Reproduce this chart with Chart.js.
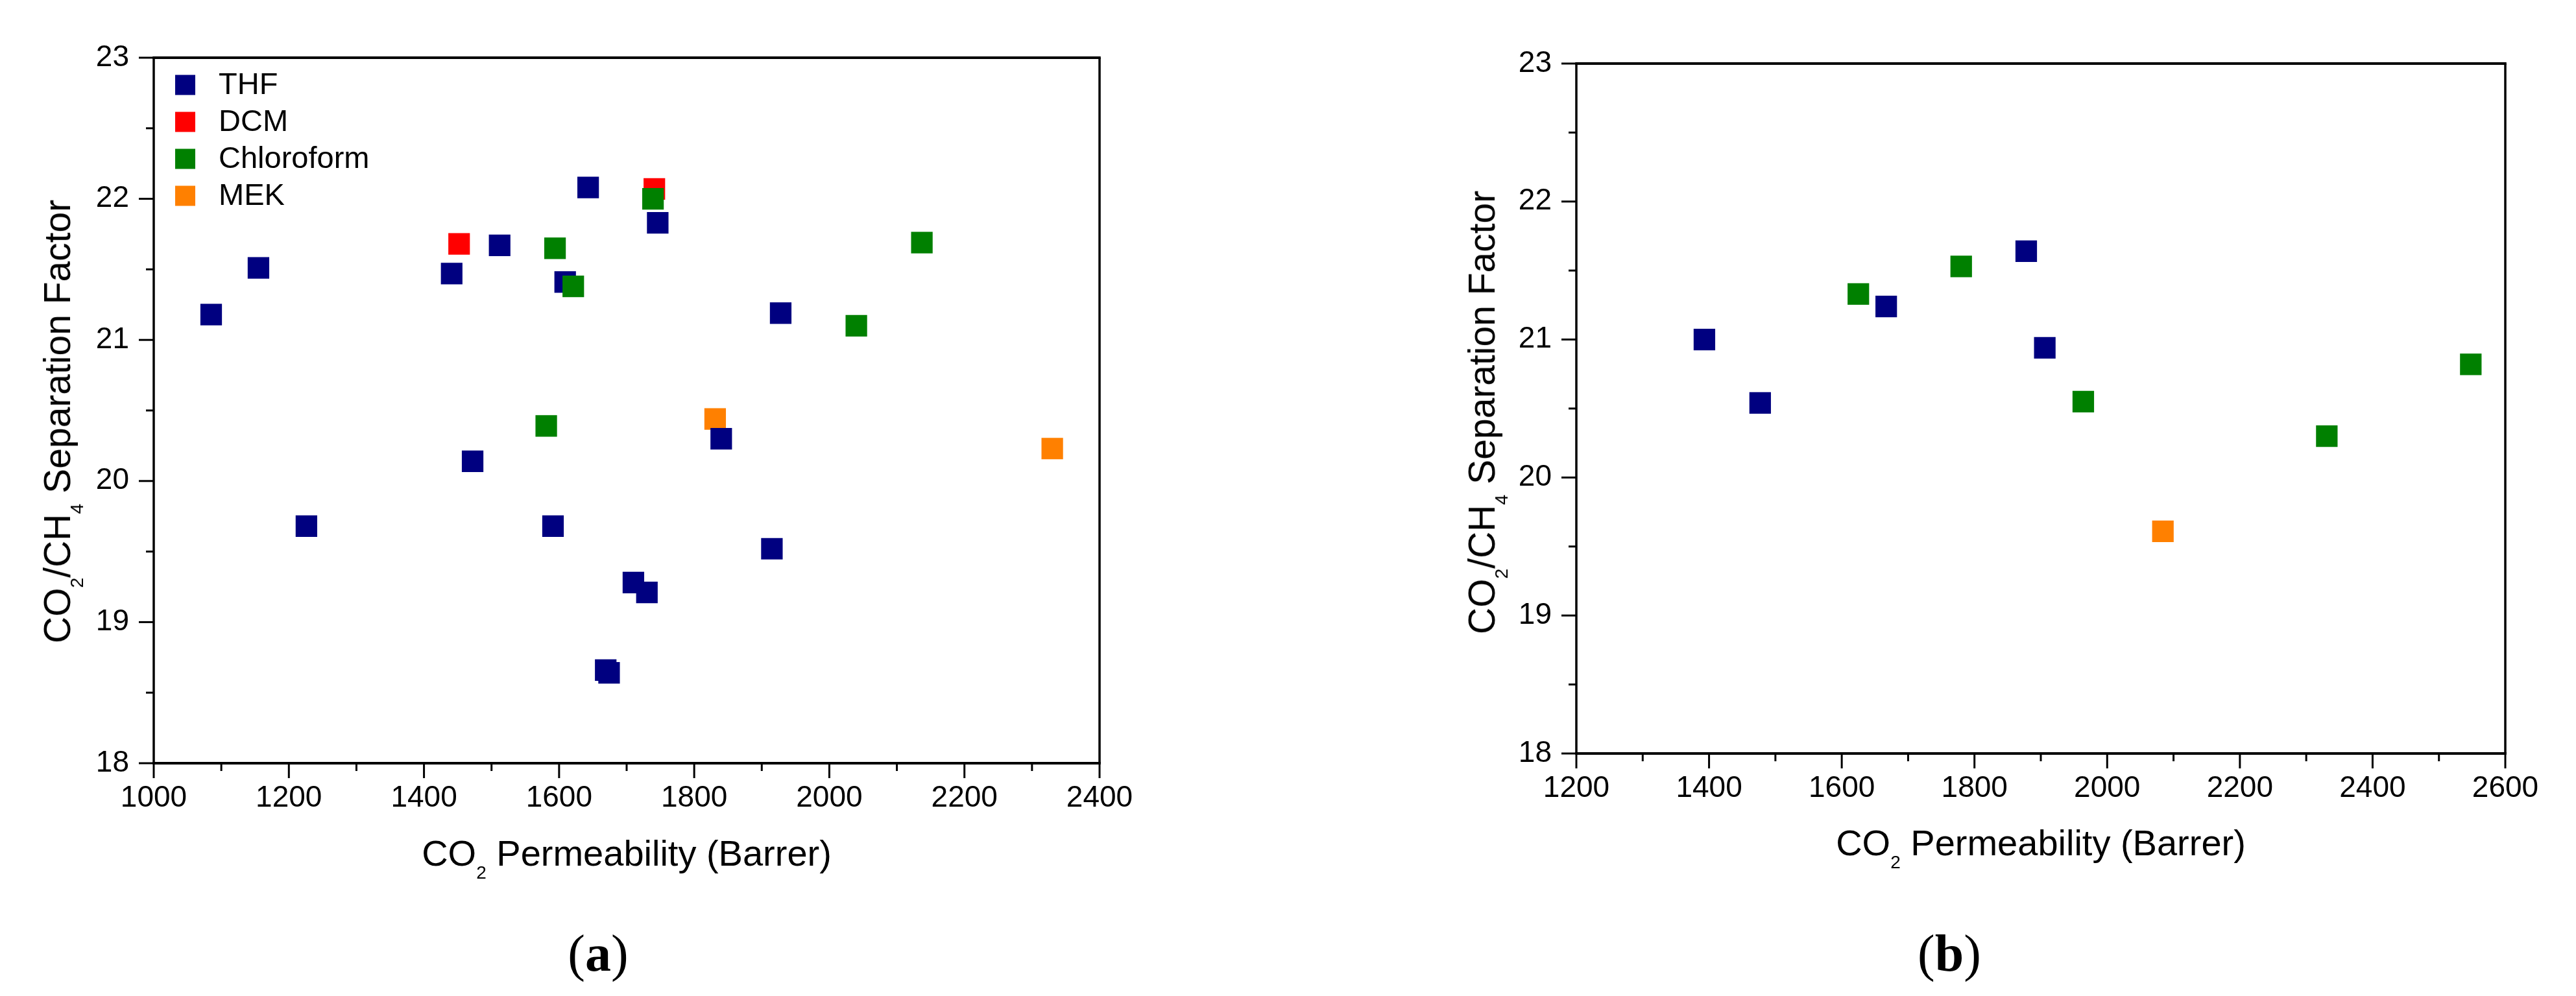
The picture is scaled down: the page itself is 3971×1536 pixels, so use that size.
<!DOCTYPE html>
<html>
<head>
<meta charset="utf-8">
<script src="https://cdn.jsdelivr.net/npm/chart.js@4.4.1/dist/chart.umd.min.js"></script>
<style>
  html, body { margin: 0; padding: 0; background: #fff; }
  body { width: 3971px; height: 1536px; position: relative; overflow: hidden;
         font-family: "Liberation Sans", Arial, sans-serif; color: #000; }
  canvas { position: absolute; top: 0; }
  #chartA { left: 0; }
  #chartB { left: 1985px; }
  .lbl { position: absolute; white-space: nowrap; transform: translate(-50%, -50%); line-height: 1; }
  .ytitle { transform: translate(-50%, -50%) rotate(-90deg); }
  .lbl sub { font-size: 0.5em; vertical-align: -0.7em; line-height: 0; }
  .panel { font-family: "Liberation Serif", "Times New Roman", serif; font-size: 80px; }
</style>
</head>
<body>
<canvas id="chartA" width="1985" height="1536"></canvas>
<canvas id="chartB" width="1986" height="1536"></canvas>

<div class="lbl ytitle" style="left:89px; top:650px; font-size:57px;">CO<sub>2</sub>/CH<sub>4</sub> Separation Factor</div>
<div class="lbl" style="left:966px; top:1317px; font-size:56px;">CO<sub>2</sub> Permeability (Barrer)</div>
<div class="lbl panel" style="left:922px; top:1470px;">(<b>a</b>)</div>

<div class="lbl ytitle" style="left:2285px; top:636px; font-size:57px;">CO<sub>2</sub>/CH<sub>4</sub> Separation Factor</div>
<div class="lbl" style="left:3146px; top:1301px; font-size:56px;">CO<sub>2</sub> Permeability (Barrer)</div>
<div class="lbl panel" style="left:3005px; top:1470px;">(<b>b</b>)</div>

<script>
// ---- panel (a): CO2 permeability (Barrer) vs CO2/CH4 separation factor ----
const thfA_x = [1085, 1155, 1226, 1441, 1472, 1512, 1591, 1609, 1643, 1669, 1674, 1710, 1730, 1746, 1840, 1915, 1928];
const thfA_y = [21.18, 21.51, 19.68, 21.47, 20.14, 21.67, 19.68, 21.41, 22.08, 18.66, 18.64, 19.28, 19.21, 21.83, 20.30, 19.52, 21.19];
const dcmA_x = [1452, 1741];
const dcmA_y = [21.68, 22.07];
const chlA_x = [1581, 1594, 1621, 1739, 2040, 2137];
const chlA_y = [20.39, 21.65, 21.38, 22.00, 21.10, 21.69];
const mekA_x = [1831, 2330];
const mekA_y = [20.44, 20.23];

// ---- panel (b) ----
const thfB_x = [1393, 1477, 1667, 1878, 1906];
const thfB_y = [21.00, 20.54, 21.24, 21.64, 20.94];
const chlB_x = [1625, 1780, 1964, 2331, 2548];
const chlB_y = [21.33, 21.53, 20.55, 20.30, 20.82];
const mekB_x = [2084];
const mekB_y = [19.61];

// axis ranges / ticks
const yRange = [18, 23];
const xRangeA = [1000, 2400];
const xRangeB = [1200, 2600];
const xStep = 100, xMajor = 200;
const yStep = 0.5;

const solvents = ["THF", "DCM", "Chloroform", "MEK"];
const colors = { THF: "#000080", DCM: "#ff0000", Chloroform: "#008000", MEK: "#ff8000" };
// chloroform drawn on top, MEK underneath
const drawOrder = { THF: 1, DCM: 2, Chloroform: 0, MEK: 3 };

function pts(xs, ys) {
  return xs.map((x, i) => ({ x: x, y: ys[i] }));
}

function dataset(name, xs, ys) {
  return {
    label: name,
    data: pts(xs, ys),
    order: drawOrder[name],
    backgroundColor: colors[name],
    borderColor: colors[name],
    borderWidth: 0,
    pointStyle: "rect",
    pointRadius: 23.5,
    pointHoverRadius: 23.5
  };
}

/* frame + outward ticks (major/minor) */
const framePlugin = {
  id: "frame",
  beforeDatasetsDraw(chart) {
    const { ctx, chartArea: a, scales } = chart;
    ctx.save();
    ctx.strokeStyle = "#000";
    ctx.lineCap = "butt";

    ctx.lineWidth = 3;
    scales.x.ticks.forEach(t => {
      const px = scales.x.getPixelForValue(t.value);
      const len = t.value % xMajor === 0 ? 23 : 12;
      ctx.beginPath();
      ctx.moveTo(px, a.bottom);
      ctx.lineTo(px, a.bottom + len);
      ctx.stroke();
    });
    scales.y.ticks.forEach(t => {
      const py = scales.y.getPixelForValue(t.value);
      const len = Number.isInteger(t.value) ? 23 : 12;
      ctx.beginPath();
      ctx.moveTo(a.left, py);
      ctx.lineTo(a.left - len, py);
      ctx.stroke();
    });

    ctx.lineWidth = 3.5;
    ctx.beginPath();
    ctx.moveTo(a.left, a.top);
    ctx.lineTo(a.left, a.bottom);
    ctx.moveTo(a.right, a.top);
    ctx.lineTo(a.right, a.bottom);
    ctx.stroke();

    ctx.lineWidth = 4;
    ctx.beginPath();
    ctx.moveTo(a.left - 1.75, a.top);
    ctx.lineTo(a.right + 1.75, a.top);
    ctx.moveTo(a.left - 1.75, a.bottom);
    ctx.lineTo(a.right + 1.75, a.bottom);
    ctx.stroke();
    ctx.restore();
  }
};

/* legend inside the plot, top-left */
const boxLegend = {
  id: "boxLegend",
  afterDatasetsDraw(chart, args, opts) {
    if (!opts.show) return;
    const { ctx, chartArea: a } = chart;
    ctx.save();
    ctx.font = "47px 'Liberation Sans', Arial, sans-serif";
    ctx.textBaseline = "middle";
    ctx.textAlign = "left";
    solvents.forEach((name, i) => {
      const cy = a.top + 42 + i * 57;
      ctx.fillStyle = colors[name];
      ctx.fillRect(a.left + 33, cy - 15.5, 31, 31);
      ctx.fillStyle = "#000";
      ctx.fillText(name, a.left + 100, cy + 1);
    });
    ctx.restore();
  }
};

function makeChart(id, datasets, xRange, pad, yWidth, legend) {
  return new Chart(document.getElementById(id), {
    type: "scatter",
    data: { datasets: datasets },
    options: {
      responsive: false,
      animation: false,
      devicePixelRatio: 1,
      layout: { padding: pad },
      plugins: {
        legend: { display: false },
        tooltip: { enabled: false },
        boxLegend: { show: legend }
      },
      scales: {
        x: {
          type: "linear",
          min: xRange[0],
          max: xRange[1],
          grid: { display: false, drawTicks: false },
          border: { display: false },
          ticks: {
            stepSize: xStep,
            autoSkip: false,
            maxRotation: 0,
            padding: 27,
            color: "#000",
            font: { family: "'Liberation Sans', Arial, sans-serif", size: 46 },
            callback: v => (v % xMajor === 0 ? String(v) : "")
          },
          afterFit: s => { s.height = 200; }
        },
        y: {
          type: "linear",
          min: yRange[0],
          max: yRange[1],
          grid: { display: false, drawTicks: false },
          border: { display: false },
          ticks: {
            stepSize: yStep,
            autoSkip: false,
            padding: 38,
            color: "#000",
            font: { family: "'Liberation Sans', Arial, sans-serif", size: 46 },
            callback: v => (Number.isInteger(v) ? String(v) : "")
          },
          afterFit: s => { s.width = yWidth; }
        }
      }
    },
    plugins: [framePlugin, boxLegend]
  });
}

makeChart("chartA", [
  dataset("THF", thfA_x, thfA_y),
  dataset("DCM", dcmA_x, dcmA_y),
  dataset("Chloroform", chlA_x, chlA_y),
  dataset("MEK", mekA_x, mekA_y)
], xRangeA, { left: 0, top: 89, right: 290, bottom: 159 }, 237, true);

makeChart("chartB", [
  dataset("THF", thfB_x, thfB_y),
  dataset("Chloroform", chlB_x, chlB_y),
  dataset("MEK", mekB_x, mekB_y)
], xRangeB, { left: 0, top: 98, right: 109, bottom: 174 }, 445, false);
</script>
</body>
</html>
